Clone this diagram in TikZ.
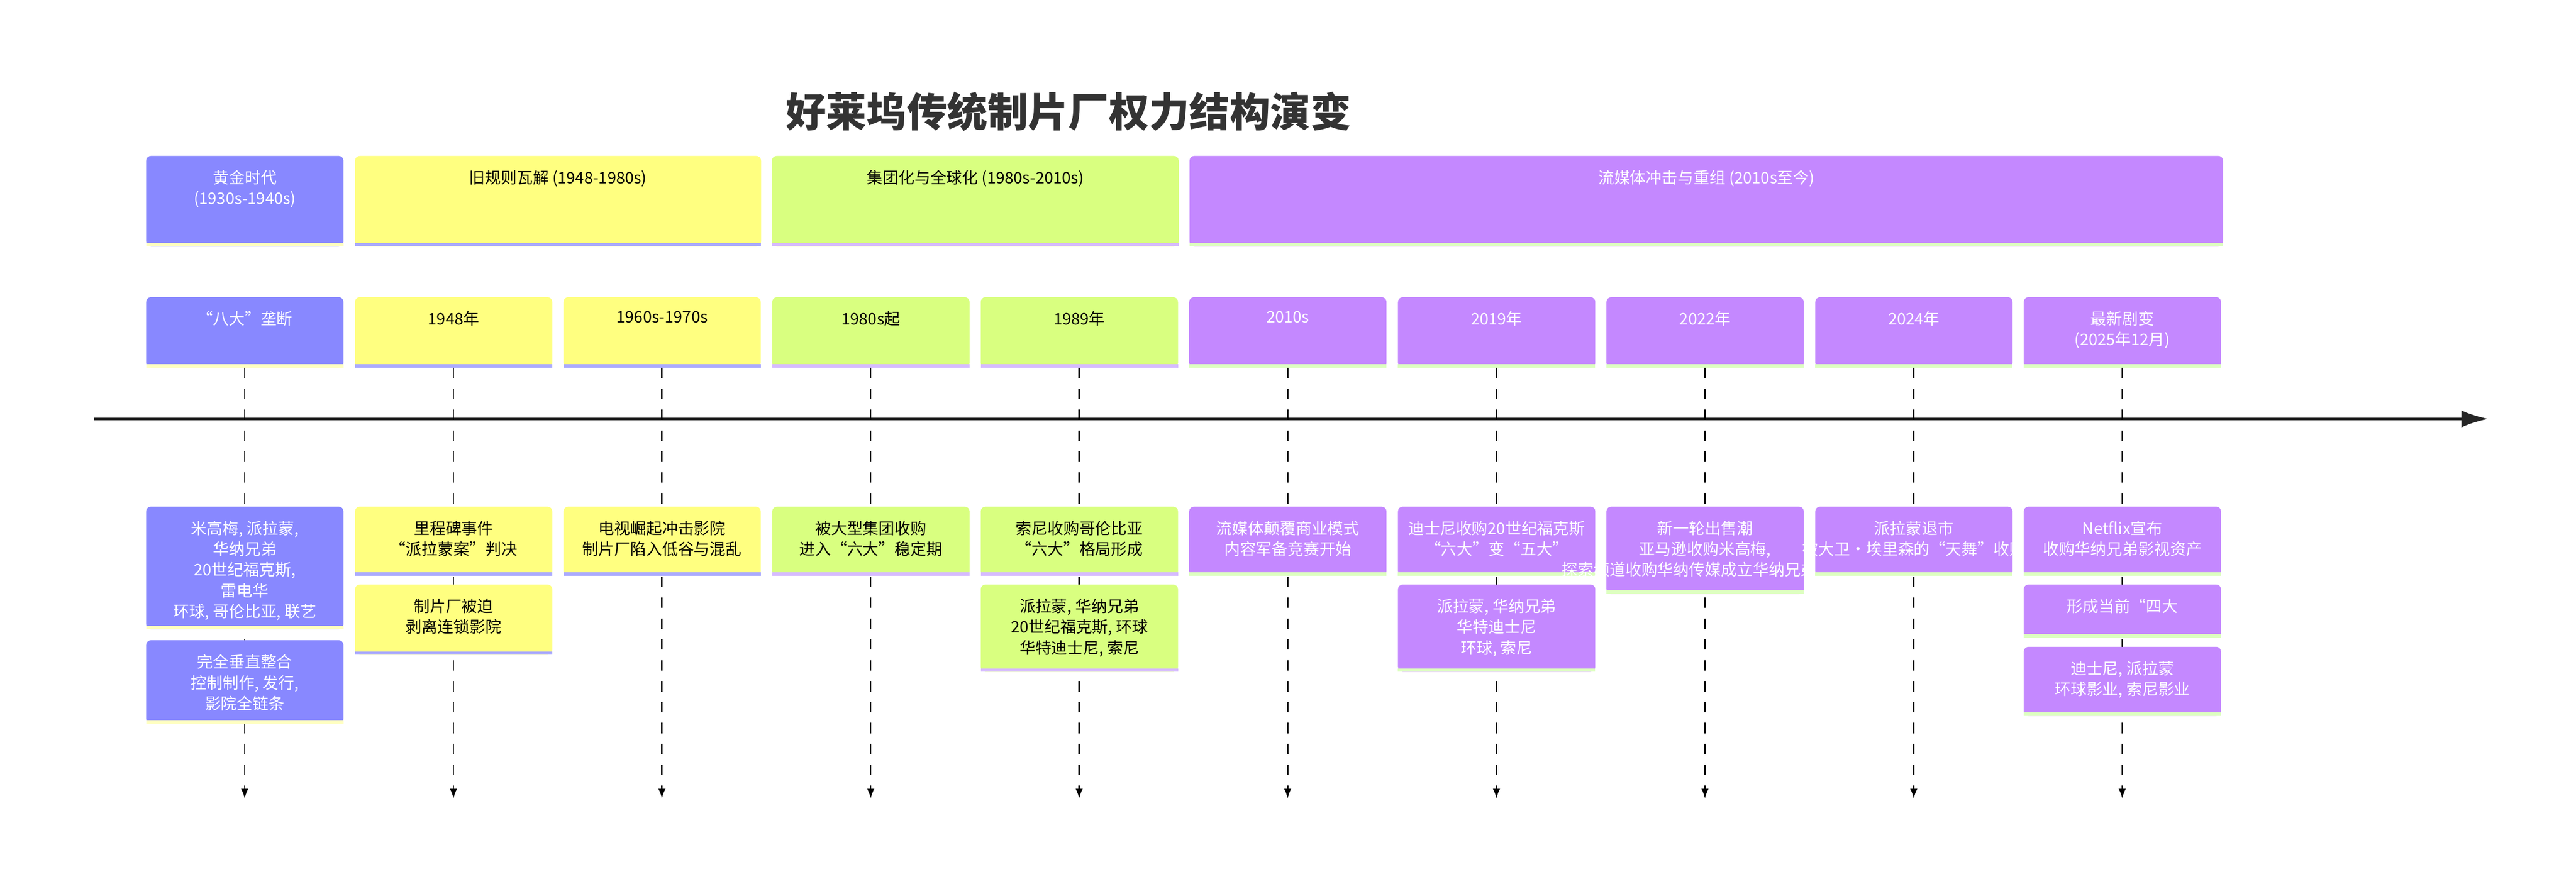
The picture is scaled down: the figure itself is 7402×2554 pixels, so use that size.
\documentclass[tikz,border=0pt]{standalone}
\usepackage{fontspec}
\setmainfont{Noto Sans CJK SC}
\usetikzlibrary{arrows.meta}
\definecolor{cB}{HTML}{8888FF}\definecolor{sB}{HTML}{FFFFC0}
\definecolor{cY}{HTML}{FFFF80}\definecolor{sY}{HTML}{AAAAFF}
\definecolor{cG}{HTML}{D9FF80}\definecolor{sG}{HTML}{D6BBFF}
\definecolor{cP}{HTML}{C488FF}\definecolor{sP}{HTML}{DDFFC0}
\tikzset{
 txt/.style={anchor=north,align=center,inner sep=0pt,font=\fontsize{13}{17}\selectfont},
 vdash/.style={dash pattern=on 0.3cm off 0.3cm,line width=1.1pt,-{Latex[length=8pt,width=6pt]}},
}
% name, x1, x2, top, bottom, fill, strip, textcolor, text
\newcommand\mybox[9]{%
 \fill[#6,rounded corners=4pt] (#2,#4) rectangle (#3,#5);
 \fill[#7] (#2,#5-10) rectangle (#3,#5);
 \node[txt,text=#8] (#1) at ({(#2+#3)/2},#4+40) {#9};}
\begin{document}
\begin{tikzpicture}[x=0.01cm,y=-0.01cm]
\useasboundingbox (0,0) rectangle (7402,2554);
\node[font=\fontsize{33}{40}\selectfont\bfseries,text=black!80] (title) at (3070,320) {好莱坞传统制片厂权力结构演变};
% sections
\mybox{s1}{420}{987}{448}{708}{cB}{sB}{white}{黄金时代\\(1930s-1940s)}
\mybox{s2}{1020}{2187}{448}{708}{cY}{sY}{black}{旧规则瓦解 (1948-1980s)}
\mybox{s3}{2218}{3387}{448}{708}{cG}{sG}{black}{集团化与全球化 (1980s-2010s)}
\mybox{s4}{3418}{6388}{448}{708}{cP}{sP}{white}{流媒体冲击与重组 (2010s至今)}
% timeline
\coordinate (tl0) at (269,1204);
\coordinate (tl1) at (7150,1204);
\draw[line width=2pt,black!85,-{Latex[length=22pt,width=14pt]}] (tl0) -- (tl1);
% dashed lines
\foreach \i/\x in {1/703,2/1303,3/1902,4/2502,5/3101,6/3700,7/4300,8/4899,9/5499,10/6098}{
 \coordinate (pb\i) at (\x,1057);
 \coordinate (pe\i) at (\x,2295);
 \draw[vdash] (pb\i) -- (pe\i);
}
% periods
\mybox{p1}{420}{987}{854}{1057}{cB}{sB}{white}{“八大”垄断}
\mybox{p2}{1020}{1587}{854}{1057}{cY}{sY}{black}{1948年}
\mybox{p3}{1619}{2186}{854}{1057}{cY}{sY}{black}{1960s-1970s}
\mybox{p4}{2219}{2786}{854}{1057}{cG}{sG}{black}{1980s起}
\mybox{p5}{2818}{3385}{854}{1057}{cG}{sG}{black}{1989年}
\mybox{p6}{3417}{3984}{854}{1057}{cP}{sP}{white}{2010s}
\mybox{p7}{4017}{4584}{854}{1057}{cP}{sP}{white}{2019年}
\mybox{p8}{4616}{5183}{854}{1057}{cP}{sP}{white}{2022年}
\mybox{p9}{5216}{5783}{854}{1057}{cP}{sP}{white}{2024年}
\mybox{p10}{5815}{6382}{854}{1057}{cP}{sP}{white}{最新剧变\\(2025年12月)}
% events
\mybox{e1a}{420}{987}{1456}{1808}{cB}{sB}{white}{米高梅, 派拉蒙,\\华纳兄弟\\20世纪福克斯,\\雷电华\\环球, 哥伦比亚, 联艺}
\mybox{e1b}{420}{987}{1840}{2080}{cB}{sB}{white}{完全垂直整合\\控制制作, 发行,\\影院全链条}
\mybox{e2a}{1020}{1587}{1456}{1655}{cY}{sY}{black}{里程碑事件\\“派拉蒙案”判决}
\mybox{e2b}{1020}{1587}{1680}{1882}{cY}{sY}{black}{制片厂被迫\\剥离连锁影院}
\mybox{e3a}{1619}{2186}{1456}{1655}{cY}{sY}{black}{电视崛起冲击影院\\制片厂陷入低谷与混乱}
\mybox{e4a}{2219}{2786}{1456}{1655}{cG}{sG}{black}{被大型集团收购\\进入“六大”稳定期}
\mybox{e5a}{2818}{3385}{1456}{1655}{cG}{sG}{black}{索尼收购哥伦比亚\\“六大”格局形成}
\mybox{e5b}{2818}{3385}{1680}{1931}{cG}{sG}{black}{派拉蒙, 华纳兄弟\\20世纪福克斯, 环球\\华特迪士尼, 索尼}
\mybox{e6a}{3417}{3984}{1456}{1655}{cP}{sP}{white}{流媒体颠覆商业模式\\内容军备竞赛开始}
\mybox{e7a}{4017}{4584}{1456}{1655}{cP}{sP}{white}{迪士尼收购20世纪福克斯\\“六大”变“五大”}
\mybox{e7b}{4017}{4584}{1680}{1931}{cP}{sP}{white}{派拉蒙, 华纳兄弟\\华特迪士尼\\环球, 索尼}
\mybox{e8a}{4616}{5183}{1456}{1707}{cP}{sP}{white}{新一轮出售潮\\亚马逊收购米高梅,\\探索频道收购华纳传媒成立华纳兄弟探索}
\mybox{e9a}{5216}{5783}{1456}{1655}{cP}{sP}{white}{派拉蒙退市\\被大卫·埃里森的“天舞”收购}
\mybox{e10a}{5815}{6382}{1456}{1655}{cP}{sP}{white}{Netflix宣布\\收购华纳兄弟影视资产}
\mybox{e10b}{5815}{6382}{1680}{1833}{cP}{sP}{white}{形成当前“四大}
\mybox{e10c}{5815}{6382}{1859}{2058}{cP}{sP}{white}{迪士尼, 派拉蒙\\环球影业, 索尼影业}
\end{tikzpicture}
\end{document}
